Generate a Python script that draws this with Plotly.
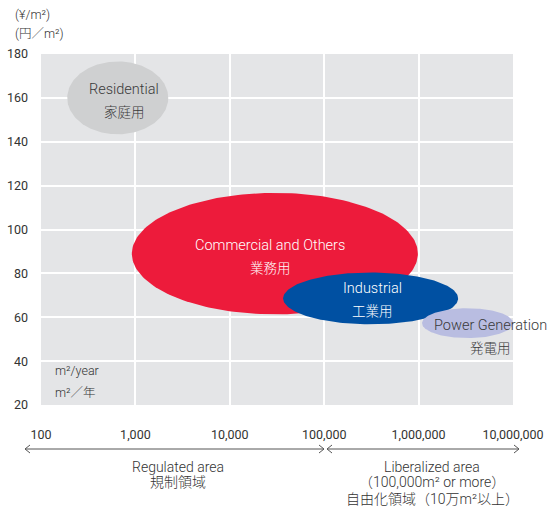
import numpy as np
import plotly.graph_objects as go

# ---- data ----
segments = ["Residential", "Commercial and Others", "Industrial", "Power Generation"]
segments_jp = ["家庭用", "業務用", "工業用", "発電用"]
center_volume = [650, 30000, 310000, 3300000]      # m²/year (ellipse centre)
center_price = [160, 89, 68.6, 57.3]                # ¥/m² (ellipse centre)
spread_decades = [0.535, 1.515, 0.927, 0.482]       # half-width, in decades of volume
spread_price = [16.6, 27.7, 11.8, 6.8]              # half-height, in ¥/m²
x_tickvals = [100, 1000, 10000, 100000, 1000000, 10000000]
x_ticktext = ["100", "1,000", "10,000", "100,000", "1,000,000", "10,000,000"]
y_tickvals = [20, 40, 60, 80, 100, 120, 140, 160, 180]

fill_colors = ["#cfd0d1", "#ed1b3b", "#0050a2", "#b9bde1"]
text_colors = ["#3a3a3a", "#ffffff", "#ffffff", "#3a3a3a"]

FONT = "Roboto, 'Noto Sans CJK JP', sans-serif"
W, H = 548, 511
L, R, T, B = 41, 35, 54, 106
PW, PH = W - L - R, H - T - B


def xp(px):
    return (px - L) / PW


def yp(py):
    return (H - B - py) / PH


fig = go.Figure()
t = np.linspace(0, 2 * np.pi, 200)
for i, name in enumerate(segments):
    lx = np.log10(center_volume[i]) + spread_decades[i] * np.cos(t)
    ys = center_price[i] + spread_price[i] * np.sin(t)
    fig.add_trace(go.Scatter(
        x=10 ** lx, y=ys, mode="lines", fill="toself",
        fillcolor=fill_colors[i], line=dict(width=0, color=fill_colors[i]),
        name=name, hoverinfo="name", showlegend=False,
    ))

annotations = []
# ellipse labels (pixel positions)
label_pos = [(124, 89, 112), (270, 245, 268), (372, 288, 311), (490, 325, 348)]
for i, (cx, y1, y2) in enumerate(label_pos):
    annotations.append(dict(x=xp(cx), y=yp(y1), xref="paper", yref="paper", text=segments[i],
                            xanchor="center", yanchor="middle", showarrow=False,
                            font=dict(size=14.5, color=text_colors[i], family=FONT, weight=300)))
    annotations.append(dict(x=xp(cx), y=yp(y2), xref="paper", yref="paper", text=segments_jp[i],
                            xanchor="center", yanchor="middle", showarrow=False,
                            font=dict(size=13.5, color=text_colors[i], family=FONT, weight=300)))

# unit labels
for txt, px, py in [("(¥/m²)", 13, 14), ("(円／m²)", 13, 33), ("m²/year", 53, 370), ("m²／年", 53, 392)]:
    annotations.append(dict(x=xp(px), y=yp(py), xref="paper", yref="paper", text=txt,
                            xanchor="left", yanchor="middle", showarrow=False,
                            font=dict(size=12.5, color="#333333", family=FONT, weight=300)))

# bottom area labels
for txt, px, py in [("Regulated area", 178, 467), ("規制領域", 178, 482),
                    ("Liberalized area", 432, 467), ("（100,000m² or more）", 432, 482),
                    ("自由化領域（10万m²以上）", 432, 499)]:
    annotations.append(dict(x=xp(px), y=yp(py), xref="paper", yref="paper", text=txt,
                            xanchor="center", yanchor="middle", showarrow=False,
                            font=dict(size=14, color="#333333", family=FONT, weight=300)))

# double arrows
def arrow_path(x1, x2, y, dx=5, dy=4):
    return (f"M {xp(x1)},{yp(y)} L {xp(x2)},{yp(y)} "
            f"M {xp(x1 + dx)},{yp(y - dy)} L {xp(x1)},{yp(y)} L {xp(x1 + dx)},{yp(y + dy)} "
            f"M {xp(x2 - dx)},{yp(y - dy)} L {xp(x2)},{yp(y)} L {xp(x2 - dx)},{yp(y + dy)}")

shapes = [
    dict(type="path", xref="paper", yref="paper", path=arrow_path(25, 324, 449),
         line=dict(color="#555555", width=1)),
    dict(type="path", xref="paper", yref="paper", path=arrow_path(327, 519, 449),
         line=dict(color="#555555", width=1)),
]

fig.update_layout(
    width=W, height=H,
    margin=dict(l=L, r=R, t=T, b=B, autoexpand=False),
    paper_bgcolor="white", plot_bgcolor="#e4e5e7",
    font=dict(family=FONT, size=13, color="#333333"),
    annotations=annotations, shapes=shapes,
    showlegend=False,
)
fig.update_xaxes(type="log", range=[2, 7], tickvals=x_tickvals, ticktext=x_ticktext,
                 showgrid=True, gridcolor="white", gridwidth=1.5, zeroline=False,
                 ticks="", ticklabelstandoff=20, showline=False, automargin=False,
                 tickfont=dict(size=12.5, color="#333333", family=FONT))
fig.update_yaxes(range=[20, 180], tickvals=y_tickvals,
                 showgrid=True, gridcolor="white", gridwidth=1.5, zeroline=False,
                 ticks="", ticklabelstandoff=12, showline=False, automargin=False,
                 tickfont=dict(size=12.5, color="#333333", family=FONT))

fig.write_html("out.html", config={"displayModeBar": False},
               post_script="document.body.style.margin='0';document.body.style.overflow='hidden';")
